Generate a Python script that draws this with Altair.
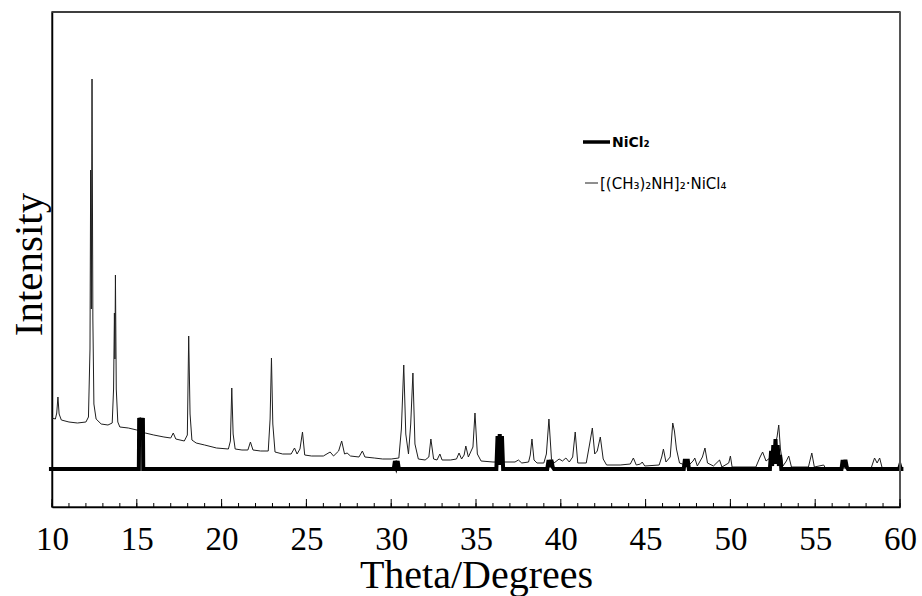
import altair as alt
import pandas as pd

# ---- data (intensity in arbitrary units above the NiCl2 baseline) ----
series_names = ["NiCl₂", "[(CH₃)₂NH]₂·NiCl₄"]

sample_theta = [
    10.0, 10.2, 10.28, 10.35, 10.42, 10.55, 11.0, 11.5, 12.0, 12.15, 12.24, 12.28, 12.32, 12.36, 12.41, 12.47,
    12.6, 12.9, 13.3, 13.55, 13.63, 13.68, 13.71, 13.74, 13.79, 13.88, 14.0, 14.5, 15.0, 15.5, 16.0, 16.6,
    17.0, 17.15, 17.3, 17.8, 17.98, 18.06, 18.14, 18.25, 18.5, 19.0, 19.7, 20.4, 20.52, 20.6, 20.68, 20.8,
    21.2, 21.55, 21.7, 21.85, 22.3, 22.75, 22.86, 22.94, 23.02, 23.15, 23.6, 24.1, 24.3, 24.45, 24.62, 24.77,
    24.9, 25.3, 26.0, 26.4, 26.6, 26.9, 27.08, 27.25, 27.4, 27.6, 28.1, 28.3, 28.45, 29.0, 29.5, 30.0,
    30.45, 30.6, 30.74, 30.86, 31.02, 31.15, 31.28, 31.4, 31.6, 32.0, 32.22, 32.34, 32.5, 32.7, 32.87, 33.0,
    33.5, 33.85, 34.0, 34.15, 34.3, 34.4, 34.55, 34.82, 34.94, 35.08, 35.3, 36.0, 37.3, 37.5, 37.7, 38.1,
    38.2, 38.3, 38.42, 38.6, 39.0, 39.15, 39.3, 39.45, 39.6, 39.9, 40.1, 40.3, 40.5, 40.7, 40.85, 41.0,
    41.5, 41.7, 41.86, 42.0, 42.15, 42.33, 42.5, 42.7, 43.5, 44.1, 44.28, 44.45, 44.7, 44.8, 44.95, 45.8,
    45.95, 46.05, 46.2, 46.45, 46.6, 46.7, 46.82, 47.0, 47.5, 47.8, 47.9, 48.05, 48.35, 48.5, 48.65, 49.0,
    49.36, 49.5, 49.9, 50.0, 50.1, 51.5, 51.75, 51.9, 52.1, 52.4, 52.6, 52.75, 52.85, 52.95, 53.1, 53.3,
    53.44, 53.6, 54.6, 54.8, 54.95, 55.5, 55.6, 58.3, 58.5, 58.65, 58.8, 58.95, 60.0,
]
sample_intensity = [
    51, 50, 56, 72, 55, 49, 47, 46, 47, 52, 120, 299, 160, 390, 150, 65,
    50, 45, 44, 46, 80, 156, 110, 194, 80, 47, 42, 41, 39, 36, 34, 32,
    31, 36, 30, 28, 34, 133, 55, 29, 26, 24, 21, 20, 28, 81, 35, 20,
    19, 19, 27, 19, 18, 18, 50, 111, 45, 17, 15, 15, 21, 15, 20, 37,
    14, 13, 13, 17, 13, 18, 28, 15, 16, 13, 12, 18, 12, 11, 10, 10,
    11, 40, 104, 35, 15, 45, 96, 25, 10, 9, 12, 30, 10, 9, 15, 9,
    9, 10, 16, 10, 14, 23, 12, 22, 56, 15, 8, 7, 7, 9, 6, 7,
    14, 30, 9, 6, 6, 15, 50, 10, 6, 10, 8, 11, 7, 12, 37, 6,
    6, 25, 41, 15, 18, 32, 10, 4, 4, 5, 11, 4, 5, 7, 3, 4,
    12, 20, 7, 12, 46, 38, 20, 6, 3, 8, 11, 3, 12, 21, 6, 3,
    9, 2, 6, 13, 2, 2, 12, 17, 8, 12, 22, 32, 44, 20, 3, 8,
    13, 2, 2, 16, 2, 4, 1, 1, 11, 6, 11, 1, 1,
]

nicl2_theta = [
    9.82, 15.12, 15.14, 15.26, 15.36, 15.38,
    30.15, 30.22, 30.3, 30.38, 30.45,
    36.2, 36.27, 36.33, 36.4, 36.46, 36.53, 36.6,
    39.2, 39.28, 39.36, 39.44, 39.52, 39.6,
    47.25, 47.32, 47.4, 47.48, 47.55,
    52.33, 52.4, 52.46, 52.53, 52.59, 52.66, 52.72, 52.79, 52.86, 52.93, 53.0,
    56.55, 56.62, 56.7, 56.78, 56.86, 56.93,
    59.95, 60.0, 60.05, 60.2,
]
nicl2_intensity = [
    0, 0, 51, 45, 51, 0,
    0, 8, 3, 8, 0,
    0, 33, 4, 35, 4, 33, 0,
    0, 9, 2, 9, 2, 0,
    0, 10, 2, 10, 0,
    0, 18, 3, 24, 5, 30, 5, 24, 3, 14, 0,
    0, 9, 2, 9, 2, 0,
    0, 3, 0, 0,
]

major_ticks = list(range(10, 61, 5))
minor_ticks = list(range(10, 61))
y_bottom = -38
y_top = 457

df_sample = pd.DataFrame({
    "theta": sample_theta, "intensity": sample_intensity,
    "series": series_names[1], "i": range(len(sample_theta)),
})
df_nicl2 = pd.DataFrame({
    "theta": nicl2_theta, "intensity": nicl2_intensity,
    "series": series_names[0], "i": range(len(nicl2_theta)),
})
df_major = pd.DataFrame({"theta": major_ticks})
df_minor = pd.DataFrame({"theta": minor_ticks})
df_leg1 = pd.DataFrame({"label": [series_names[0]]})
df_leg2 = pd.DataFrame({"label": [series_names[1]]})

serif = "Liberation Serif"
x_scale = alt.Scale(domain=[10, 60], nice=False, zero=False)
y_scale = alt.Scale(domain=[y_bottom, y_top], nice=False, zero=False)

x_axis = alt.Axis(
    orient="bottom", title="Theta/Degrees", values=major_ticks, grid=False,
    ticks=False, tickSize=0,
    labelOverlap=False, labelFlush=False,
    labelFont=serif, labelFontSize=33, labelColor="#000", labelFontWeight="normal",
    labelPadding=16,
    domainColor="#000", domainWidth=1.5,
    titleFont=serif, titleFontSize=40, titleFontWeight="normal", titleColor="#000",
    titleBaseline="alphabetic", titleY=80,
)
y_axis = alt.Axis(
    title="Intensity", ticks=False, labels=False, grid=False,
    domainColor="#000", domainWidth=1.5,
    titleFont=serif, titleFontSize=41, titleFontWeight="normal", titleColor="#000",
    titleBaseline="alphabetic", titleAngle=270, titleX=-11, titleY=252,
)

x_enc = alt.X("theta:Q", scale=x_scale, axis=x_axis, title="Theta/Degrees")
y_enc = alt.Y("intensity:Q", scale=y_scale, axis=y_axis, title="Intensity")

sample_line = alt.Chart(df_sample).mark_line(strokeWidth=1, color="#1f1f1f").encode(
    x=x_enc, y=y_enc, order="i:Q",
)
nicl2_line = alt.Chart(df_nicl2).mark_line(strokeWidth=4, strokeJoin="miter", color="#000000").encode(
    x=x_enc, y=y_enc, order="i:Q",
)
# legend (key lines + labels)
leg1_key = alt.Chart(df_leg1).mark_rule(color="#000", strokeWidth=3.5).encode(
    x=alt.value(531), x2=alt.value(558), y=alt.value(130),
)
leg1_text = alt.Chart(df_leg1).mark_text(
    align="left", baseline="middle", font="DejaVu Sans", fontSize=14, fontWeight="bold", color="#000",
).encode(x=alt.value(560), y=alt.value(131), text="label:N")
leg2_key = alt.Chart(df_leg2).mark_rule(color="#1f1f1f", strokeWidth=1).encode(
    x=alt.value(533), x2=alt.value(546), y=alt.value(171),
)
leg2_text = alt.Chart(df_leg2).mark_text(
    align="left", baseline="middle", font="DejaVu Sans", fontSize=15, fontWeight="normal", color="#000",
).encode(x=alt.value(548), y=alt.value(172), text="label:N")
# frame: top and right edges of the plot box
top_edge = alt.Chart(df_leg1).mark_rule(color="#333", strokeWidth=1.5).encode(
    x=alt.value(0), x2=alt.value(848), y=alt.value(0),
)
right_edge = alt.Chart(df_leg1).mark_rule(color="#555", strokeWidth=2).encode(
    x=alt.value(848), y=alt.value(0), y2=alt.value(495),
)
# inward-pointing axis ticks (major every 5, minor every 1), placed through the x and y scales
major_tick_marks = alt.Chart(df_major).mark_rule(color="#000", strokeWidth=1).encode(
    x=x_enc,
    y=alt.Y(datum=y_bottom, scale=y_scale, axis=y_axis, title="Intensity"),
    y2=alt.Y2(datum=y_bottom + 8),
)
minor_tick_marks = alt.Chart(df_minor).mark_rule(color="#000", strokeWidth=1).encode(
    x=x_enc,
    y=alt.Y(datum=y_bottom, scale=y_scale, axis=y_axis, title="Intensity"),
    y2=alt.Y2(datum=y_bottom + 4),
)

chart = alt.layer(
    sample_line, nicl2_line, leg1_key, leg1_text, leg2_key, leg2_text,
    top_edge, right_edge, major_tick_marks, minor_tick_marks,
).properties(
    width=848, height=495,
    background="white",
    autosize=alt.AutoSizeParams(type="none"),
    padding={"left": 52, "top": 12, "right": 22, "bottom": 89},
).configure_view(
    stroke="#333333", strokeWidth=1.5
)

chart.save("out.html", embed_options={"renderer": "svg", "actions": False})
